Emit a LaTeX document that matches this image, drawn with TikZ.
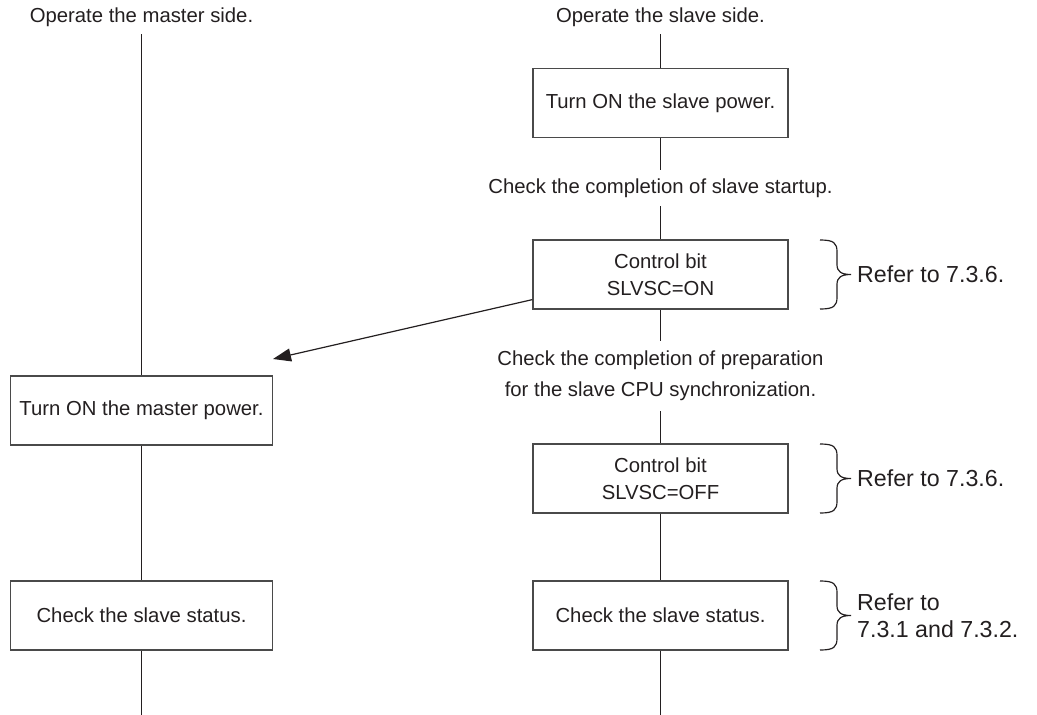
\documentclass[tikz,border=0pt]{standalone}
\usepackage{fontspec}
\setmainfont{Liberation Sans}
\usetikzlibrary{arrows.meta,calc}
\definecolor{ink}{HTML}{231F20}
\definecolor{edge}{HTML}{4A4A4A}
\tikzset{
  x=1pt, y=-1pt,
  txt/.style={text=ink, font=\fontsize{20.3}{27}\selectfont, inner sep=0pt, align=center},
  boxr/.style={draw=edge, line width=1.2pt, minimum width=255pt, minimum height=69pt, inner sep=0pt, text=ink, font=\fontsize{20.3}{27}\selectfont, align=center},
  boxl/.style={boxr, minimum width=262pt},
  conn/.style={draw=ink, line width=1.2pt},
  refer/.style={text=ink, font=\fontsize{23.2}{27}\selectfont, inner sep=0pt, align=left, anchor=west},
  bracepath/.style={draw=ink, line width=1.2pt}
}
\newcommand{\mybrace}[3]{% x, ytop, ybottom
  \pgfmathsetmacro{\ym}{(#2+#3)/2}
  \draw[bracepath] (#1,#2) .. controls (#1+14,#2) and (#1+17,#2+3) .. (#1+17,#2+12)
    -- (#1+17,\ym-10) .. controls (#1+17,\ym-3) and (#1+21,\ym) .. (#1+31,\ym)
    .. controls (#1+21,\ym) and (#1+17,\ym+3) .. (#1+17,\ym+10)
    -- (#1+17,#3-12) .. controls (#1+17,#3-3) and (#1+14,#3) .. (#1,#3);
}
\begin{document}
\begin{tikzpicture}
\useasboundingbox (0,0) rectangle (1037,715);
% left column
\node[txt, minimum height=34pt] (tm) at (141.5,17) {Operate the master side.};
\node[boxl] (mpow) at (141.5,410.5) {Turn ON the master power.};
\node[boxl] (mstat) at (141.5,615.5) {Check the slave status.};
\coordinate (mend) at (141.5,715);
\draw[conn] (tm.south) -- (mpow.north);
\draw[conn] (mpow.south) -- (mstat.north);
\draw[conn] (mstat.south) -- (mend);
% right column
\node[txt, minimum height=34pt] (ts) at (660.5,17) {Operate the slave side.};
\node[boxr] (spow) at (660.5,103) {Turn ON the slave power.};
\node[txt, minimum height=36pt] (cs) at (660.5,188) {Check the completion of slave startup.};
\node[boxr] (con) at (660.5,274.5) {Control bit\\SLVSC=ON};
\node[txt, font=\fontsize{20.3}{31}\selectfont, minimum height=70pt] (cp) at (660.5,376) {Check the completion of preparation\\for the slave CPU synchronization.};
\node[boxr] (coff) at (660.5,478.5) {Control bit\\SLVSC=OFF};
\node[boxr] (sstat) at (660.5,615.5) {Check the slave status.};
\coordinate (send) at (660.5,715);
\draw[conn] (ts.south) -- (spow.north);
\draw[conn] (spow.south) -- (cs.north);
\draw[conn] (cs.south) -- (con.north);
\draw[conn] (con.south) -- (cp.north);
\draw[conn] (cp.south) -- (coff.north);
\draw[conn] (coff.south) -- (sstat.north);
\draw[conn] (sstat.south) -- (send);
% cross arrow
\coordinate (atip) at (273,359);
\draw[conn, -{Triangle[length=18pt,width=13pt]}] ($(con.south west)+(0,-10)$) -- (atip);
% braces and references
\mybrace{820}{240}{309}
\mybrace{820}{444}{513}
\mybrace{820}{581}{650}
\node[refer] (r1) at (857,274.5) {Refer to 7.3.6.};
\node[refer] (r2) at (857,478.5) {Refer to 7.3.6.};
\node[refer] (r3) at (857,615.5) {Refer to\\7.3.1 and 7.3.2.};
\end{tikzpicture}
\end{document}
